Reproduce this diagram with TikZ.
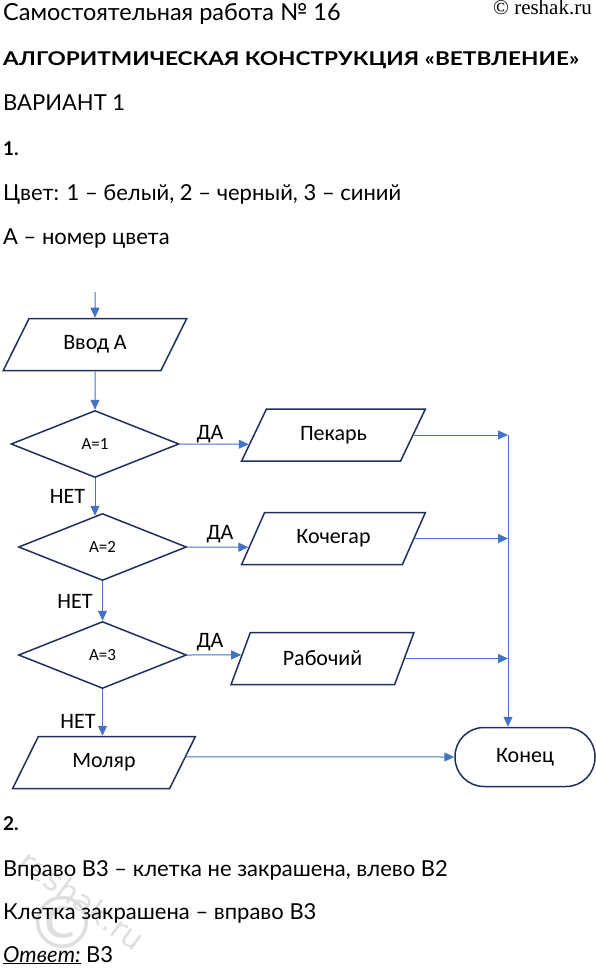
\documentclass[tikz,border=0pt]{standalone}
\usepackage{fontspec}
\setmainfont{Lato}
\newfontfamily\flowfont{Carlito}
\newfontfamily\markfont{Liberation Serif}
\newfontfamily\wmfont{DejaVu Sans}
\newfontfamily\widebold[FakeStretch=1.19]{Lato Bold}
\usetikzlibrary{shapes.geometric,arrows.meta,calc}

\definecolor{lineblue}{HTML}{4472C4}
\definecolor{boxnavy}{HTML}{1F3060}

\begin{document}
\begin{tikzpicture}[x=1pt,y=-1pt]
	\tikzstyle{txt}=[anchor=base west,inner sep=0pt,font=\fontsize{22}{26}\selectfont]
	\tikzstyle{head}=[anchor=base west,inner sep=0pt,font=\bfseries\fontsize{19}{23}\selectfont]
	\tikzstyle{io}=[trapezium,trapezium left angle=55,trapezium right angle=125,trapezium stretches=true,
		draw=boxnavy,line width=1.5pt,minimum width=184pt,minimum height=52pt,inner sep=0pt,
		font=\flowfont\fontsize{22}{26}\selectfont]
	\tikzstyle{cond}=[diamond,draw=boxnavy,line width=1.5pt,minimum width=168pt,minimum height=67pt,
		inner sep=0pt,font=\flowfont\fontsize{17}{20}\selectfont]
	\tikzstyle{term}=[rectangle,rounded corners=29pt,draw=boxnavy,line width=1.5pt,minimum width=140pt,
		minimum height=59pt,font=\flowfont\fontsize{22}{26}\selectfont]
	\tikzstyle{arr}=[draw=lineblue,line width=1pt,-{Triangle[length=10pt,width=9pt]}]
	\tikzstyle{lbl}=[anchor=base,inner sep=0pt,font=\flowfont\fontsize{22}{26}\selectfont]

	\useasboundingbox (0,0) rectangle (596,968);

	% header text
	\node[txt,font=\fontsize{23.5}{27}\selectfont] (title) at (3,21) {Самостоятельная работа № 16};
	\node[anchor=base east,inner sep=0pt,font=\markfont\fontsize{21}{24}\selectfont] (site) at (592,15) {© reshak.ru};
	\node[anchor=base west,inner sep=0pt,font=\widebold\fontsize{19}{23}\selectfont] (topic) at (3,66) {АЛГОРИТМИЧЕСКАЯ КОНСТРУКЦИЯ «ВЕТВЛЕНИЕ»};
	\node[txt] (var) at (3,111) {ВАРИАНТ 1};
	\node[head] (n1) at (3,156) {1.};
	\node[txt] (colors) at (3,201) {Цвет: 1 – белый, 2 – черный, 3 – синий};
	\node[txt] (anum) at (3,244) {А – номер цвета};

	% flowchart
	\coordinate (start) at (95,292);
	\node[io] (in) at (95,344.5) {Ввод А};
	\node[cond] (d1) at (95,444) {А=1};
	\node[io] (pek) at (333.5,435) {Пекарь};
	\node[cond] (d2) at (102.5,547) {А=2};
	\node[io] (koch) at (333.5,538.5) {Кочегар};
	\node[cond] (d3) at (102.5,655) {А=3};
	\node[io] (rab) at (322.5,658.5) {Рабочий};
	\node[io] (mol) at (104,762.5) {Моляр};
	\node[term] (kon) at (525,757) {Конец};
	\coordinate (bus) at (508,435);

	\draw[arr] (start) -- (in.north);
	\draw[arr] (in.south) -- (d1.north);
	\draw[arr,shorten >=-3pt] (d1.south) -- (d1.south |- d2.north);
	\draw[arr] (d2.south) -- (d3.north);
	\draw[arr] (d3.south) -- (d3.south |- mol.north);

	\draw[arr] (d1.east) -- ($(pek.bottom left corner)!.327!(pek.top left corner)$);
	\draw[arr] (d2.east) -- ($(koch.bottom left corner)!.337!(koch.top left corner)$);
	\draw[arr] (d3.east) -- ($(rab.bottom left corner)!.567!(rab.top left corner)$);

	\draw[arr] (pek.east) -- (pek.east -| bus);
	\draw[arr] (koch.east) -- (koch.east -| bus);
	\draw[arr] (rab.east) -- (rab.east -| bus);
	\draw[arr] (bus) -- (bus |- kon.north);
	\draw[arr] ($(mol.bottom right corner)!.606!(mol.top right corner)$) -- (kon.west);

	\node[lbl] (yes1) at (210,439) {ДА};
	\node[lbl] (yes2) at (220,539) {ДА};
	\node[lbl] (yes3) at (210,647) {ДА};
	\node[lbl] (no1) at (67.5,503) {НЕТ};
	\node[lbl] (no2) at (75,608) {НЕТ};
	\node[lbl] (no3) at (78,728) {НЕТ};

	% watermark
	\node[text=gray!25,font=\wmfont\fontsize{72}{72}\selectfont,inner sep=0pt] (wmc) at (62,922) {©};
	\node[text=gray!25,rotate=-36,font=\wmfont\fontsize{31}{33}\selectfont,inner sep=0pt] (wm) at (82,900) {reshak.ru};

	% second task
	\node[head] (n2) at (3,830) {2.};
	\node[txt] (right) at (3,876) {Вправо В3 – клетка не закрашена, влево В2};
	\node[txt] (filled) at (3,919) {Клетка закрашена – вправо В3};
	\node[txt] (ans) at (3,962) {\underline{\textit{Ответ:}} В3};
\end{tikzpicture}
\end{document}
